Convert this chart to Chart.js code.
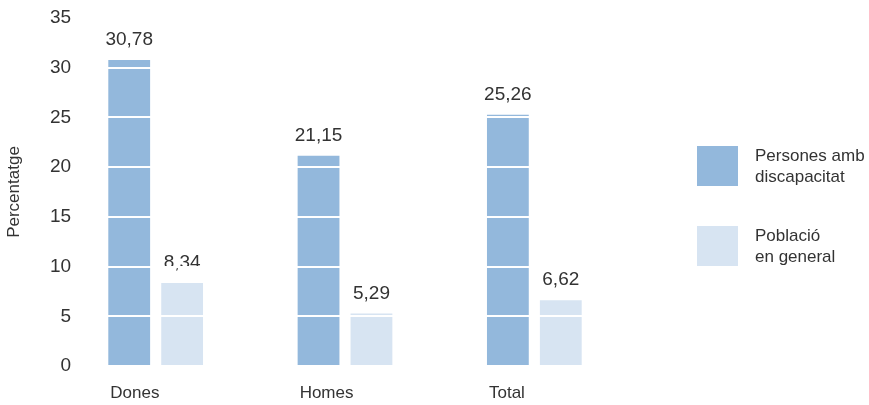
<!DOCTYPE html>
<html>
<head>
<meta charset="utf-8">
<script src="https://cdn.jsdelivr.net/npm/chart.js@4/dist/chart.umd.min.js"></script>
<style>
  html, body { margin: 0; padding: 0; background: #fff; }
  #wrap { position: relative; width: 869px; height: 405px; }
  .legend { position: absolute; left: 697px; font-family: "Liberation Sans", Arial, sans-serif; font-size: 17px; color: #333; }
  .legend .box { position: absolute; left: 0; top: 0; width: 41px; height: 40px; }
  .legend .txt { position: absolute; left: 58px; top: -1px; line-height: 21px; white-space: nowrap; }
</style>
</head>
<body>
<div id="wrap">
  <canvas id="chart" width="869" height="405"></canvas>
  <div class="legend" style="top:146px"><div class="box" style="background:#93b8dc"></div><div class="txt">Persones amb<br>discapacitat</div></div>
  <div class="legend" style="top:226px"><div class="box" style="background:#d7e4f2"></div><div class="txt">Població<br>en general</div></div>
</div>
<script>
const categories = ["Dones", "Homes", "Total"];
const discapacitat = [30.78, 21.15, 25.26];
const poblacio = [8.34, 5.29, 6.62];
const yTicks = [0, 5, 10, 15, 20, 25, 30, 35];

const font = "Liberation Sans, Arial, sans-serif";

// value labels above each bar, decimal comma
const valueLabels = {
  id: "valueLabels",
  afterDatasetsDraw(chart) {
    const ctx = chart.ctx;
    ctx.save();
    ctx.font = "19px " + font;
    ctx.fillStyle = "#333";
    ctx.textAlign = "center";
    ctx.textBaseline = "middle";
    chart.data.datasets.forEach((ds, i) => {
      chart.getDatasetMeta(i).data.forEach((el, j) => {
        ctx.fillText(ds.data[j].toFixed(2).replace(".", ","), el.x, el.y - 20);
      });
    });
    ctx.restore();
  }
};

// category labels left-aligned under first bar of each group
const catLabels = {
  id: "catLabels",
  afterDraw(chart) {
    const ctx = chart.ctx;
    const meta = chart.getDatasetMeta(0);
    ctx.save();
    ctx.font = "17px " + font;
    ctx.fillStyle = "#333";
    ctx.textAlign = "left";
    ctx.textBaseline = "middle";
    meta.data.forEach((el, i) => {
      ctx.fillText(categories[i], el.x - el.width / 2 + 2, chart.chartArea.bottom + 27);
    });
    ctx.restore();
  }
};

new Chart(document.getElementById("chart"), {
  type: "bar",
  data: {
    labels: categories,
    datasets: [
      { label: "Persones amb discapacitat", data: discapacitat, backgroundColor: "#93b8dc" },
      { label: "Població en general", data: poblacio, backgroundColor: "#d7e4f2" }
    ]
  },
  options: {
    responsive: false,
    animation: false,
    maintainAspectRatio: false,
    categoryPercentage: 0.559,
    barPercentage: 0.79,
    layout: { padding: { top: 18, right: 240, bottom: 39, left: 0 } },
    plugins: { legend: { display: false }, tooltip: { enabled: false } },
    scales: {
      x: { display: false },
      y: {
        min: 0,
        max: 35,
        afterBuildTicks(scale) { scale.ticks = yTicks.map(v => ({ value: v })); },
        afterFit(scale) { scale.width = 61; },
        grid: { color: "#ffffff", lineWidth: 2, z: 1, drawTicks: false },
        border: { display: false },
        ticks: { z: 2, mirror: true, crossAlign: "far", padding: -11, color: "#333", font: { family: font, size: 19 } },
        title: {
          display: true,
          text: "Percentatge",
          color: "#333",
          font: { family: font, size: 17 },
          padding: { top: 4, bottom: 0 }
        }
      }
    }
  },
  plugins: [valueLabels, catLabels]
});
</script>
</body>
</html>
